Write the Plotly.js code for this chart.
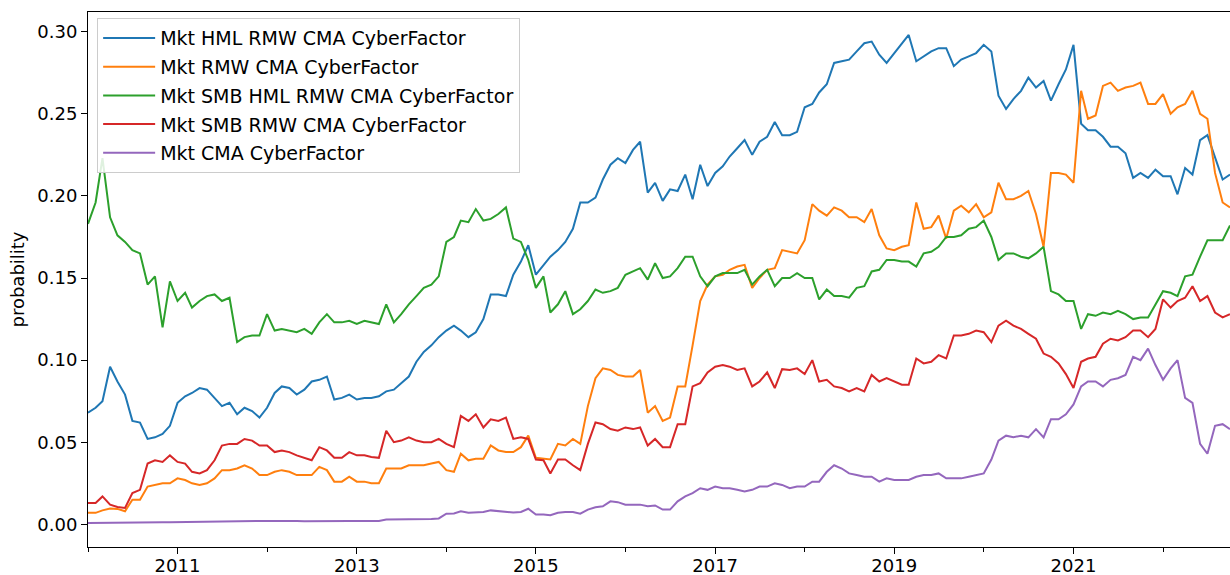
<!DOCTYPE html>
<html>
<head>
<meta charset="utf-8">
<script src="https://cdn.plot.ly/plotly-3.0.1.min.js"></script>
<style>html,body{margin:0;padding:0;background:#fff;}#chart{width:1230px;height:575px;}</style>
</head>
<body>
<div id="chart"></div>
<script>
// Monthly observations, January 2010 onwards (154 months)
const startYear = 2010;
const seriesNames = [
  "Mkt HML RMW CMA CyberFactor",
  "Mkt RMW CMA CyberFactor",
  "Mkt SMB HML RMW CMA CyberFactor",
  "Mkt SMB RMW CMA CyberFactor",
  "Mkt CMA CyberFactor"
];
const seriesColors = ["#1f77b4", "#ff7f0e", "#2ca02c", "#d62728", "#9467bd"];

const mktHmlRmwCma = [0.068,0.071,0.075,0.096,0.087,0.079,0.063,0.062,0.052,0.053,
 0.055,0.060,0.074,0.078,0.080,0.083,0.082,0.077,0.072,0.074,
 0.067,0.071,0.069,0.065,0.071,0.080,0.084,0.083,0.079,0.082,
 0.087,0.088,0.090,0.076,0.077,0.079,0.076,0.077,0.077,0.078,
 0.081,0.082,0.086,0.090,0.099,0.105,0.109,0.114,0.118,0.121,
 0.118,0.114,0.117,0.125,0.140,0.140,0.139,0.152,0.160,0.170,
 0.152,0.158,0.163,0.167,0.172,0.180,0.196,0.196,0.199,0.210,
 0.219,0.223,0.220,0.228,0.233,0.202,0.208,0.197,0.204,0.203,
 0.213,0.198,0.219,0.206,0.214,0.218,0.224,0.229,0.234,0.225,
 0.233,0.236,0.245,0.237,0.237,0.239,0.254,0.256,0.263,0.268,
 0.281,0.282,0.283,0.288,0.293,0.294,0.286,0.281,0.287,0.293,
 0.298,0.282,0.285,0.288,0.290,0.290,0.279,0.283,0.285,0.287,
 0.292,0.288,0.261,0.253,0.259,0.264,0.272,0.266,0.270,0.258,
 0.268,0.277,0.292,0.244,0.240,0.240,0.236,0.230,0.230,0.226,
 0.211,0.214,0.211,0.216,0.212,0.212,0.201,0.217,0.213,0.234,
 0.237,0.223,0.210,0.213];

const mktRmwCma = [0.007,0.007,0.0085,0.0096,0.0094,0.008,0.015,0.015,0.023,0.024,
 0.025,0.025,0.028,0.027,0.025,0.024,0.025,0.028,0.033,0.033,
 0.034,0.036,0.034,0.030,0.030,0.032,0.033,0.032,0.030,0.030,
 0.030,0.035,0.033,0.026,0.026,0.029,0.026,0.026,0.025,0.025,
 0.034,0.034,0.034,0.036,0.036,0.036,0.037,0.038,0.033,0.032,
 0.043,0.039,0.040,0.040,0.048,0.045,0.044,0.044,0.047,0.054,
 0.0405,0.040,0.0395,0.049,0.048,0.052,0.049,0.072,0.089,0.095,
 0.094,0.091,0.090,0.090,0.094,0.068,0.072,0.063,0.065,0.084,
 0.084,0.109,0.136,0.146,0.151,0.152,0.155,0.157,0.158,0.144,
 0.150,0.155,0.156,0.167,0.166,0.165,0.173,0.195,0.191,0.188,
 0.193,0.191,0.187,0.187,0.184,0.192,0.176,0.168,0.167,0.169,
 0.170,0.196,0.180,0.181,0.188,0.174,0.191,0.194,0.190,0.195,
 0.187,0.190,0.208,0.198,0.198,0.200,0.203,0.189,0.169,0.214,
 0.214,0.213,0.208,0.264,0.247,0.249,0.267,0.269,0.264,0.266,
 0.267,0.269,0.256,0.256,0.262,0.250,0.254,0.256,0.264,0.250,
 0.247,0.214,0.196,0.193];

const mktSmbHmlRmwCma = [0.183,0.196,0.223,0.187,0.176,0.172,0.167,0.165,0.146,0.151,
 0.120,0.148,0.136,0.141,0.132,0.136,0.139,0.140,0.136,0.138,
 0.111,0.114,0.115,0.115,0.128,0.118,0.119,0.118,0.117,0.119,
 0.116,0.123,0.128,0.123,0.123,0.124,0.122,0.124,0.123,0.122,
 0.134,0.123,0.128,0.134,0.139,0.144,0.146,0.151,0.172,0.175,
 0.185,0.184,0.192,0.185,0.186,0.189,0.193,0.174,0.172,0.161,
 0.144,0.151,0.129,0.134,0.142,0.128,0.131,0.136,0.143,0.141,
 0.142,0.144,0.152,0.154,0.156,0.149,0.159,0.150,0.151,0.156,
 0.163,0.163,0.151,0.145,0.151,0.153,0.153,0.153,0.155,0.146,
 0.151,0.155,0.145,0.150,0.150,0.153,0.150,0.150,0.137,0.143,
 0.139,0.139,0.138,0.144,0.145,0.154,0.155,0.161,0.161,0.160,
 0.160,0.157,0.165,0.166,0.169,0.175,0.175,0.176,0.180,0.181,
 0.185,0.175,0.161,0.165,0.165,0.163,0.162,0.165,0.169,0.142,
 0.140,0.136,0.136,0.119,0.128,0.127,0.129,0.128,0.130,0.128,
 0.125,0.126,0.126,0.134,0.142,0.141,0.139,0.151,0.152,0.163,
 0.173,0.173,0.173,0.182];

const mktSmbRmwCma = [0.013,0.013,0.017,0.012,0.0106,0.010,0.019,0.021,0.037,0.039,
 0.038,0.042,0.038,0.037,0.032,0.031,0.033,0.039,0.048,0.049,
 0.049,0.052,0.051,0.048,0.048,0.044,0.045,0.044,0.042,0.0405,
 0.039,0.047,0.045,0.0405,0.0405,0.044,0.042,0.042,0.041,0.0405,
 0.057,0.050,0.051,0.053,0.051,0.050,0.050,0.052,0.049,0.047,
 0.066,0.063,0.067,0.059,0.064,0.063,0.065,0.052,0.053,0.052,
 0.0395,0.039,0.031,0.0395,0.0395,0.036,0.033,0.049,0.062,0.061,
 0.058,0.057,0.059,0.058,0.059,0.048,0.052,0.047,0.047,0.061,
 0.061,0.084,0.086,0.0925,0.096,0.097,0.096,0.094,0.095,0.084,
 0.087,0.0925,0.083,0.0945,0.094,0.095,0.0915,0.100,0.087,0.088,
 0.084,0.083,0.081,0.083,0.081,0.091,0.087,0.089,0.087,0.085,
 0.085,0.101,0.098,0.099,0.103,0.101,0.115,0.115,0.116,0.118,
 0.117,0.111,0.121,0.124,0.121,0.119,0.116,0.113,0.104,0.102,
 0.098,0.0915,0.083,0.099,0.101,0.102,0.110,0.113,0.112,0.114,
 0.118,0.118,0.114,0.119,0.137,0.132,0.136,0.138,0.145,0.136,
 0.139,0.129,0.126,0.128];

const mktCma = [0.0008,0.0008,0.0009,0.0010,0.0010,0.0009,0.0010,0.0010,0.0011,0.0012,
 0.0012,0.0013,0.0014,0.0015,0.0015,0.0016,0.0017,0.0017,0.0018,0.0019,
 0.0020,0.0019,0.0020,0.0021,0.0020,0.0021,0.0021,0.0020,0.0020,0.0019,
 0.0020,0.0021,0.0020,0.0019,0.0020,0.0021,0.0020,0.0020,0.0020,0.0020,
 0.0029,0.0029,0.0030,0.0030,0.0031,0.0031,0.0033,0.0036,0.0065,0.0066,
 0.0080,0.0070,0.0071,0.0075,0.0085,0.0080,0.0075,0.0072,0.0075,0.0095,
 0.0060,0.0060,0.0055,0.0070,0.0075,0.0075,0.0065,0.0090,0.0104,0.0110,
 0.0140,0.0135,0.0120,0.0120,0.0120,0.0110,0.0115,0.0090,0.0090,0.0140,
 0.0170,0.0190,0.0220,0.0210,0.0230,0.0220,0.0220,0.0210,0.0200,0.0210,
 0.0230,0.0230,0.0250,0.0240,0.0220,0.0230,0.0230,0.0260,0.0260,0.0320,
 0.0360,0.0340,0.0310,0.0300,0.0290,0.0290,0.0260,0.0280,0.0270,0.0270,
 0.0270,0.0290,0.0300,0.0300,0.0310,0.0280,0.0280,0.0280,0.0290,0.0300,
 0.0310,0.0395,0.0510,0.0540,0.0530,0.0540,0.0530,0.0580,0.0530,0.0640,
 0.0640,0.0670,0.0730,0.0840,0.0870,0.0870,0.0840,0.0880,0.0890,0.0910,
 0.1020,0.1000,0.1070,0.0970,0.0880,0.0950,0.1000,0.0770,0.0740,0.0490,
 0.0430,0.0600,0.0610,0.0580];

const yTickVals = [0, 0.05, 0.10, 0.15, 0.20, 0.25, 0.30];
const yTickText = ["0.00", "0.05", "0.10", "0.15", "0.20", "0.25", "0.30"];
const xTickVals = ["2011-01-01", "2013-01-01", "2015-01-01", "2017-01-01", "2019-01-01", "2021-01-01"];
const xTickText = ["2011", "2013", "2015", "2017", "2019", "2021"];

// month dates for the x axis
const dates = mktHmlRmwCma.map((_, i) => {
  const y = startYear + Math.floor(i / 12);
  const m = (i % 12) + 1;
  return y + "-" + (m < 10 ? "0" + m : m) + "-01";
});

const allSeries = [mktHmlRmwCma, mktRmwCma, mktSmbHmlRmwCma, mktSmbRmwCma, mktCma];
const traces = allSeries.map((vals, k) => ({
  type: "scatter",
  mode: "lines",
  x: dates,
  y: vals,
  name: seriesNames[k],
  legendgroup: "g" + k,
  line: {color: seriesColors[k], width: 2}
}));

const layout = {
  width: 1230, height: 575,
  margin: {l: 88, r: 0, t: 12, b: 28},
  paper_bgcolor: "#ffffff", plot_bgcolor: "#ffffff",
  font: {family: "DejaVu Sans", size: 18, color: "#000000"},
  showlegend: true,
  legend: {
    x: 0.008, y: 0.9885, xanchor: "left", yanchor: "top",
    bgcolor: "rgba(255,255,255,0.85)", bordercolor: "#cccccc", borderwidth: 1,
    font: {family: "DejaVu Sans", size: 19, color: "#000000"},
    traceorder: "grouped", tracegroupgap: 1,
    itemwidth: 52
  },
  xaxis: {
    type: "date",
    range: [dates[0], dates[dates.length - 1]],
    showgrid: false, zeroline: false,
    showline: true, linecolor: "#000000", linewidth: 1, mirror: true,
    ticks: "outside", ticklen: 6, tickwidth: 1, tickcolor: "#000000",
    tickmode: "array", tickvals: xTickVals, ticktext: xTickText,
    minor: {ticks: "outside", ticklen: 3.5, tickwidth: 1, tickcolor: "#000000", dtick: "M12", tick0: "2010-01-01", showgrid: false},
    automargin: false,
    ticklabelstandoff: -4,
    tickfont: {size: 18}
  },
  yaxis: {
    range: [-0.0138, 0.312],
    showgrid: false, zeroline: false,
    showline: true, linecolor: "#000000", linewidth: 1,
    ticks: "outside", ticklen: 6, tickwidth: 1, tickcolor: "#000000",
    tickmode: "array", tickvals: yTickVals, ticktext: yTickText,
    automargin: false,
    tickfont: {size: 18},
    title: {text: "probability", font: {size: 18}, standoff: 8}
  }
};

Plotly.newPlot("chart", traces, layout, {displayModeBar: false, staticPlot: true});
</script>
</body>
</html>
